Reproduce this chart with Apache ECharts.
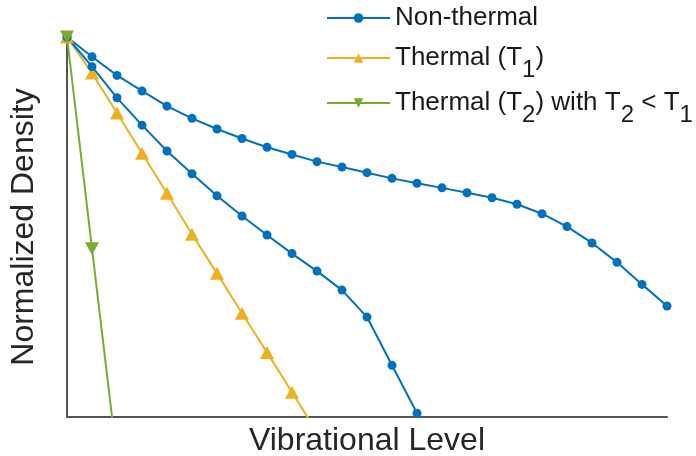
<!DOCTYPE html>
<html>
<head>
    <meta charset="UTF-8">
    <title>Vibrational Level Distribution</title>
    <script type="text/javascript" src="https://cdn.jsdelivr.net/npm/echarts@6/dist/echarts.min.js"></script>
    <style>
        body { margin: 0; background: #fff; }
        #chart { width: 696px; height: 456px; }
    </style>
</head>
<body>
<div id="chart"></div>
<script>
    // vibrational levels and normalized densities
    var upperLevels = [0, 1, 2, 3, 4, 5, 6, 7, 8, 9, 10, 11, 12, 13, 14, 15, 16, 17, 18, 19, 20, 21, 22, 23, 24];
    var upperDensity = [1.0, 0.948, 0.899, 0.858, 0.818, 0.786, 0.758, 0.733, 0.710, 0.691, 0.672, 0.658, 0.643,
        0.628, 0.615, 0.603, 0.590, 0.577, 0.560, 0.535, 0.501, 0.458, 0.407, 0.349, 0.292];

    var lowerLevels = [0, 1, 2, 3, 4, 5, 6, 7, 8, 9, 10, 11, 12, 13, 14];
    var lowerDensity = [1.0, 0.922, 0.840, 0.768, 0.700, 0.640, 0.582, 0.529, 0.479, 0.430, 0.384, 0.334, 0.263, 0.136, 0.01];

    var t1Levels = [0, 1, 2, 3, 4, 5, 6, 7, 8, 9, 10];
    var t1Density = [1.0, 0.905, 0.800, 0.694, 0.589, 0.481, 0.378, 0.273, 0.170, 0.065, -0.04];

    var t2Levels = [0, 1, 2];
    var t2Density = [1.0, 0.443, -0.11];

    var legendNames = ['Non-thermal', 'Thermal (T1)', 'Thermal (T2) with T2 < T1'];
    var legendTops = [5, 45, 90];

    var BLUE = '#0072BD', ORANGE = '#EDB120', GREEN = '#77AC30';
    var FONT = 'Liberation Sans';

    function pairs(xs, ys) {
        var out = [];
        for (var i = 0; i < xs.length; i++) {
            out.push([xs[i], ys[i]]);
        }
        return out;
    }

    // subscripts drawn with rich text
    function legendLabel(name) {
        if (name == 'Thermal (T1)') {
            return '{m|Thermal (T}{s|1}{m|)}';
        }
        if (name == 'Thermal (T2) with T2 < T1') {
            return '{m|Thermal (T}{s|2}{m|) with T}{s|2}{m| < T}{s|1}';
        }
        return name;
    }

    // one legend per row so the uneven row spacing can be matched
    var legends = [];
    for (var i = 0; i < legendNames.length; i++) {
        legends.push({
            orient: 'vertical',
            left: 326,
            top: legendTops[i],
            padding: 0,
            itemWidth: 63,
            itemHeight: 12,
            data: [legendNames[i]],
            textStyle: {
                fontFamily: FONT, fontSize: 26, color: '#1a1a1a',
                rich: {
                    m: {fontFamily: FONT, fontSize: 26, color: '#1a1a1a', lineHeight: 30},
                    s: {fontFamily: FONT, fontSize: 24, color: '#1a1a1a', lineHeight: 30, height: 1, padding: [25, 0, 0, 0]}
                }
            },
            formatter: legendLabel
        });
    }

    var chart = echarts.init(document.getElementById('chart'));

    var option = {
        animation: false,
        backgroundColor: '#fff',
        grid: {left: 67, right: 29, top: 37, bottom: 39, outerBoundsMode: 'none'},
        legend: legends,
        xAxis: {
            type: 'value',
            min: 0,
            max: 24,
            name: 'Vibrational Level',
            nameLocation: 'middle',
            nameGap: 8,
            nameTextStyle: {fontFamily: FONT, fontSize: 32, color: '#262626'},
            axisLine: {show: true, lineStyle: {color: '#555', width: 2}},
            axisTick: {show: false},
            axisLabel: {show: false},
            splitLine: {show: false}
        },
        yAxis: {
            type: 'value',
            min: 0,
            max: 1,
            name: 'Normalized Density',
            nameLocation: 'middle',
            nameGap: 27,
            nameTextStyle: {fontFamily: FONT, fontSize: 32, color: '#262626'},
            axisLine: {show: true, lineStyle: {color: '#555', width: 2}},
            axisTick: {show: false},
            axisLabel: {show: false},
            splitLine: {show: false}
        },
        series: [
            {
                name: 'Thermal (T1)',
                type: 'line',
                data: pairs(t1Levels, t1Density),
                clip: true,
                symbol: 'triangle',
                symbolSize: [14, 13],
                lineStyle: {color: ORANGE, width: 2},
                itemStyle: {color: ORANGE}
            },
            {
                name: 'Non-thermal',
                type: 'line',
                data: pairs(upperLevels, upperDensity),
                clip: true,
                symbol: 'circle',
                symbolSize: 9,
                lineStyle: {color: BLUE, width: 2},
                itemStyle: {color: BLUE}
            },
            {
                name: 'Non-thermal',
                type: 'line',
                data: pairs(lowerLevels, lowerDensity),
                clip: true,
                symbol: 'circle',
                symbolSize: 9,
                lineStyle: {color: BLUE, width: 2},
                itemStyle: {color: BLUE}
            },
            {
                name: 'Thermal (T2) with T2 < T1',
                type: 'line',
                data: pairs(t2Levels, t2Density),
                clip: true,
                symbol: 'triangle',
                symbolRotate: 180,
                symbolSize: [14, 13],
                lineStyle: {color: GREEN, width: 2},
                itemStyle: {color: GREEN}
            }
        ]
    };

    chart.setOption(option);
</script>
</body>
</html>
